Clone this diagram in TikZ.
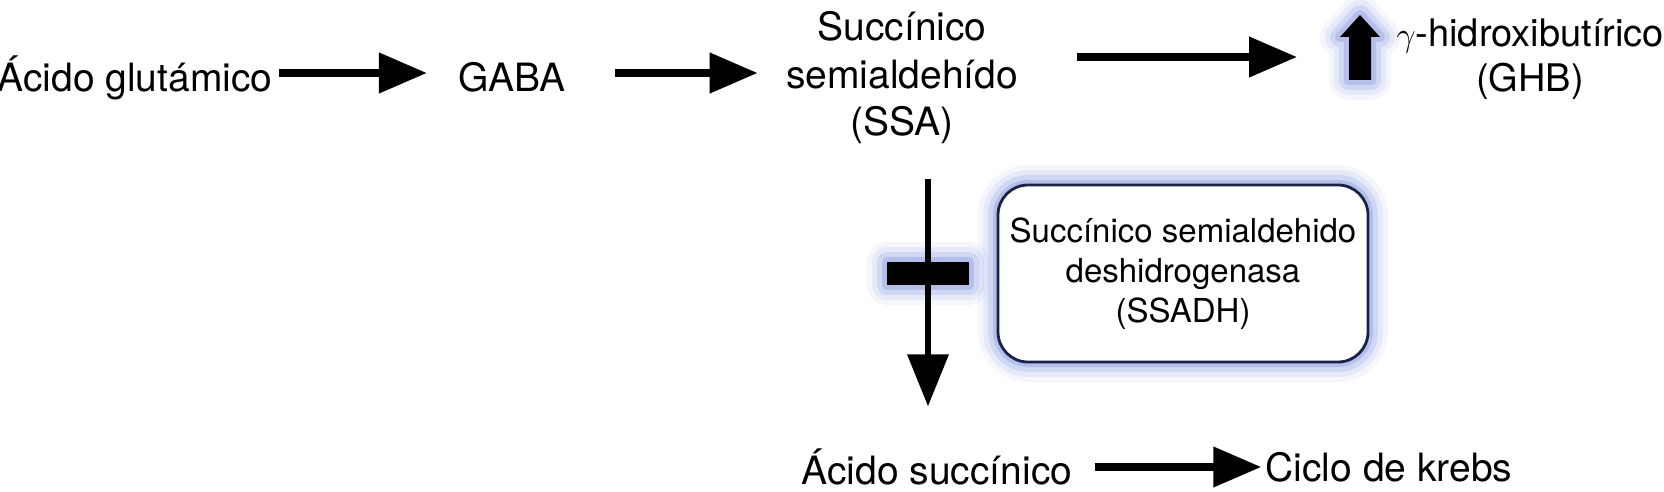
\documentclass[tikz,border=0pt]{standalone}
\usepackage{fontspec}
\setmainfont{TeX Gyre Heros}
\usetikzlibrary{arrows.meta}
\definecolor{glowblue}{RGB}{80,105,210}
\definecolor{boxline}{RGB}{25,35,70}

\begin{document}
\begin{tikzpicture}[x=0.5pt, y=-0.5pt,
  met/.style={align=center, font=\fontsize{19.5}{23.75}\selectfont, inner sep=0pt},
  arr/.style={-{Triangle[length=24pt,width=19.5pt]}, line width=3.75pt,
    preaction={draw=black!22, transform canvas={yshift=-1.5pt}}},
  downarr/.style={-{Triangle[length=26pt,width=20pt]}, line width=3.3pt},
  glow/.style={
    preaction={draw=glowblue, draw opacity=0.06, line width=20pt, line join=round},
    preaction={draw=glowblue, draw opacity=0.09, line width=15pt, line join=round},
    preaction={draw=glowblue, draw opacity=0.14, line width=10pt, line join=round},
    preaction={draw=glowblue, draw opacity=0.22, line width=5pt, line join=round}},
  enzbox/.style={draw=boxline, line width=1.4pt, rounded corners=15pt, fill=white,
    minimum width=185pt, minimum height=88.5pt, align=center,
    font=\fontsize{16.5}{20}\selectfont},
  blockbar/.style={fill=black, minimum width=41pt, minimum height=11.5pt, inner sep=0pt}
]
  \useasboundingbox (0,0) rectangle (1664,492);

  % metabolites
  \node[met, anchor=base] (glu)   at (135,92)  {Ácido glutámico};
  \node[met, anchor=base] (gaba)  at (512,92)  {GABA};
  \node[met] (ssa)   at (902,78)  {Succínico\\semialdehído\\(SSA)};
  \node[met, font=\fontsize{19}{22.5}\selectfont] (ghb) at (1530,59) {$\gamma$-hidroxibutírico\\(GHB)};
  \node[met] (suc)   at (937,467) {Ácido succínico};
  \node[met] (krebs) at (1389,467) {Ciclo de krebs};

  % enzyme and block
  \node[enzbox, glow] (enz) at (1183,273.5) {Succínico semialdehido\\deshidrogenasa\\(SSADH)};
  \coordinate (blk) at (928,273.5);
  \node[blockbar, glow] (bar) at (blk) {};

  % increase of GHB
  \coordinate (incr) at (1360,48);
  \fill[black, glow] ([shift={(0,-33)}]incr) -- ([shift={(20,-11)}]incr) -- ([shift={(11,-11)}]incr)
    -- ([shift={(11,32)}]incr) -- ([shift={(-11,32)}]incr) -- ([shift={(-11,-11)}]incr)
    -- ([shift={(-20,-11)}]incr) -- cycle;

  % pathway
  \draw[arr, shorten <=3pt] ([yshift=9.5pt]glu.base east) -- ([shift={(-31,-19)}]gaba.base west);
  \draw[arr] ([shift={(49,-19)}]gaba.base east) -- ([shift={(-28,-5)}]ssa.west);
  \draw[arr] ([shift={(59,-21)}]ssa.east) -- ([shift={(-63,9)}]incr);
  \draw[downarr, shorten <=17pt, shorten >=21pt] (ssa.south -| blk) -- (suc.north -| blk);
  \draw[arr, shorten <=11pt, shorten >=2pt] (suc.east) -- (krebs.west);
\end{tikzpicture}
\end{document}
